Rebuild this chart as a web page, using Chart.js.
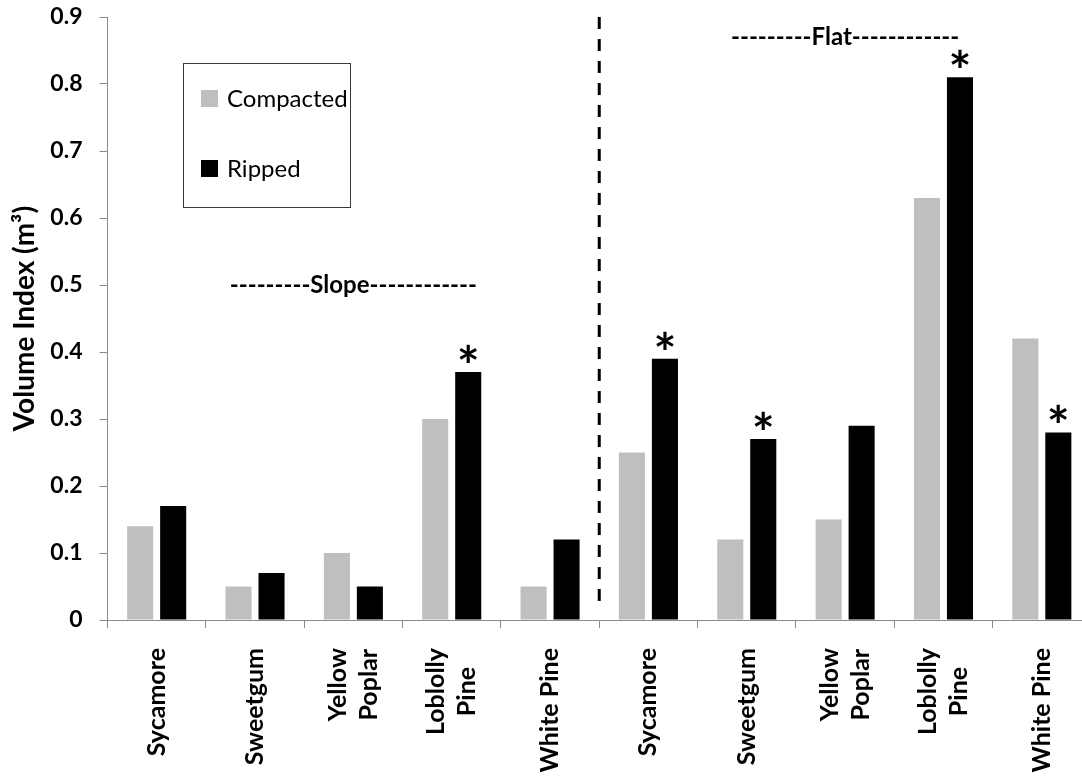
<!DOCTYPE html>
<html>
<head>
<meta charset="utf-8">
<script src="https://cdn.jsdelivr.net/npm/chart.js@4.4.1/dist/chart.umd.min.js"></script>
<style>
  html, body { margin: 0; padding: 0; background: #ffffff; overflow: hidden; }
  #wrap { position: absolute; left: 0; top: 0; width: 1092px; height: 778px; }
</style>
</head>
<body>
<div id="wrap"><canvas id="chart"></canvas></div>
<script>
// Species, first the five slope plots, then the five flat plots
const categories = [
  'Sycamore', 'Sweetgum', ['Yellow', 'Poplar'], ['Loblolly', 'Pine'], 'White Pine',
  'Sycamore', 'Sweetgum', ['Yellow', 'Poplar'], ['Loblolly', 'Pine'], 'White Pine'
];

// Volume index (m³) by treatment
const compacted = [0.14, 0.05, 0.10, 0.30, 0.05, 0.25, 0.12, 0.15, 0.63, 0.42];
const ripped    = [0.17, 0.07, 0.05, 0.37, 0.12, 0.39, 0.27, 0.29, 0.81, 0.28];

// Ripped bars marked as significantly different
const significant = [false, false, false, true, false, true, true, false, true, true];

// Y axis ticks
const yTicks = [0, 0.1, 0.2, 0.3, 0.4, 0.5, 0.6, 0.7, 0.8, 0.9];

// Site headings: text, category it sits over, height in axis units
const siteHeadings = [
  { text: '---------Slope------------', at: 2, value: 0.5 },
  { text: '---------Flat------------',  at: 7, value: 0.87 }
];

const FONT = 'Lato, "Open Sans", sans-serif';
const AXIS_GRAY = '#8a8a8a';

const annotations = {
  id: 'annotations',
  afterDatasetsDraw(chart) {
    const { ctx, chartArea } = chart;
    const xs = chart.scales.x, ys = chart.scales.y;
    ctx.save();

    // dashed divider between the slope and flat groups
    const divX = (xs.getPixelForValue(4) + xs.getPixelForValue(5)) / 2;
    ctx.strokeStyle = '#000';
    ctx.lineWidth = 3;
    ctx.setLineDash([12, 10]);
    ctx.beginPath();
    ctx.moveTo(divX, ys.getPixelForValue(0.9));
    ctx.lineTo(divX, ys.getPixelForValue(0.015));
    ctx.stroke();
    ctx.setLineDash([]);

    // site headings
    ctx.fillStyle = '#000';
    ctx.font = 'bold 24px ' + FONT;
    ctx.textAlign = 'center';
    ctx.textBaseline = 'middle';
    siteHeadings.forEach(h => {
      ctx.fillText(h.text, xs.getPixelForValue(h.at), ys.getPixelForValue(h.value));
    });

    // asterisks above significant ripped bars
    const meta = chart.getDatasetMeta(1);
    ctx.font = 'bold 54px ' + FONT;
    ctx.textBaseline = 'alphabetic';
    const descent = ctx.measureText('*').actualBoundingBoxDescent;
    const gap = 9;
    significant.forEach((s, i) => {
      if (!s) return;
      const bar = meta.data[i];
      ctx.fillText('*', bar.x, bar.y - gap - descent);
    });

    // legend box
    const lx = 183, ly = 63, lw = 167, lh = 144;
    ctx.strokeStyle = '#3a3a3a';
    ctx.lineWidth = 1;
    ctx.strokeRect(lx + 0.5, ly + 0.5, lw, lh);
    ctx.font = '24px ' + FONT;
    ctx.textAlign = 'left';
    ctx.textBaseline = 'middle';
    chart.data.datasets.forEach((ds, k) => {
      const cy = ly + 36 + k * 70;
      ctx.fillStyle = ds.backgroundColor;
      ctx.fillRect(lx + 18, cy - 9, 17, 17);
      ctx.fillStyle = '#000';
      ctx.fillText(ds.label, lx + 44, cy);
    });

    // rotated category labels, lines centred within each label
    ctx.font = 'bold 25px ' + FONT;
    ctx.textAlign = 'center';
    ctx.textBaseline = 'middle';
    ctx.fillStyle = '#000';
    const labelTop = chartArea.bottom + 28;
    const lineGap = 31;
    categories.forEach((lab, i) => {
      const lines = Array.isArray(lab) ? lab : [lab];
      const maxW = Math.max(...lines.map(l => ctx.measureText(l).width));
      ctx.save();
      ctx.translate(xs.getPixelForTick(i), labelTop + maxW / 2);
      ctx.rotate(-Math.PI / 2);
      lines.forEach((l, k) => ctx.fillText(l, 0, (k - (lines.length - 1) / 2) * lineGap));
      ctx.restore();
    });

    ctx.restore();
  }
};

new Chart(document.getElementById('chart'), {
  type: 'bar',
  data: {
    labels: categories,
    datasets: [
      { label: 'Compacted', data: compacted, backgroundColor: '#bfbfbf',
        categoryPercentage: 0.671, barPercentage: 0.79 },
      { label: 'Ripped', data: ripped, backgroundColor: '#000000',
        categoryPercentage: 0.671, barPercentage: 0.79 }
    ]
  },
  options: {
    responsive: true,
    maintainAspectRatio: false,
    animation: false,
    layout: { padding: { top: 17, right: 1, bottom: 0, left: 0 } },
    plugins: {
      legend: { display: false },
      tooltip: { enabled: false }
    },
    scales: {
      x: {
        grid: { offset: true, drawOnChartArea: false, drawTicks: true, tickLength: 8,
                color: AXIS_GRAY, lineWidth: 1 },
        border: { color: AXIS_GRAY, width: 1 },
        ticks: { display: false },
        afterFit(scale) { scale.height = 158; }
      },
      y: {
        min: 0,
        max: 0.9,
        afterBuildTicks(scale) { scale.ticks = yTicks.map(v => ({ value: v })); },
        grid: { drawOnChartArea: false, drawTicks: true, tickLength: 8,
                color: AXIS_GRAY, lineWidth: 1 },
        border: { color: AXIS_GRAY, width: 1 },
        ticks: {
          padding: 17,
          color: '#000',
          font: { family: FONT, size: 23, weight: 'bold' },
          callback: v => String(v)
        },
        title: {
          display: true,
          text: 'Volume Index (m³)',
          color: '#000',
          font: { family: FONT, size: 28, weight: 'bold' },
          padding: { top: 8, bottom: 0 }
        },
        afterFit(scale) {
          scale.width = 107.5;
          scale.paddingTop = 0;
          scale.paddingBottom = 0;
        }
      }
    }
  },
  plugins: [annotations]
});
</script>
</body>
</html>
